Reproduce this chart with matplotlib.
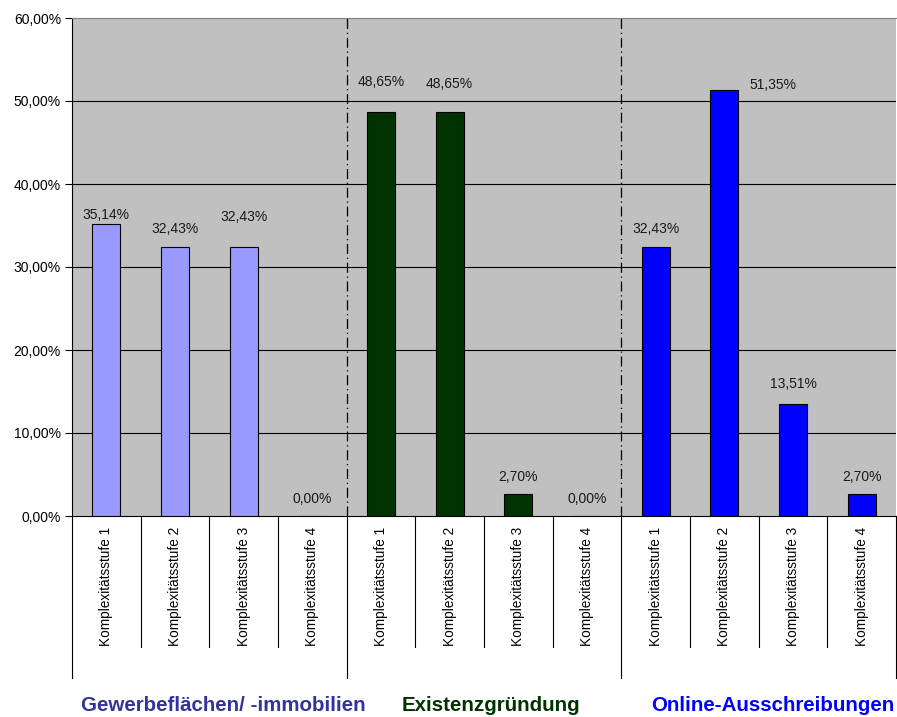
import numpy as np
import matplotlib.pyplot as plt
from matplotlib.transforms import blended_transform_factory

plt.rcParams['font.family'] = ['Liberation Sans', 'DejaVu Sans']

# categories and values (percent)
groups = ['Gewerbeflächen/ -immobilien', 'Existenzgründung', 'Online-Ausschreibungen']
levels = ['Komplexitätsstufe 1', 'Komplexitätsstufe 2', 'Komplexitätsstufe 3', 'Komplexitätsstufe 4']
gewerbe = [35.14, 32.43, 32.43, 0.00]
existenz = [48.65, 48.65, 2.70, 0.00]
online = [32.43, 51.35, 13.51, 2.70]

group_colors = ['#9999FF', '#003300', '#0000FF']
title_colors = ['#333399', '#003300', '#0000FF']
title_x = [1.7, 5.6, 9.7]

# label offsets in pixels (dx, dy) above the bar top
label_offsets = [(0, 9), (0, 18), (0, 30), (0, 17),
                 (0, 30), (0, 28), (0, 17), (0, 17),
                 (0, 18), (49, 5), (0, 20), (0, 17)]

values = gewerbe + existenz + online
n = len(values)
x = np.arange(n)
colors = [c for c in group_colors for _ in levels]

fig = plt.figure(figsize=(8.97, 7.17), dpi=100)
ax = fig.add_axes([72 / 897, 1 - 516 / 717, 824 / 897, 498 / 717])
ax.set_facecolor('#C0C0C0')

ax.bar(x, values, width=0.41, color=colors, edgecolor='black', linewidth=0.8, zorder=3)

ax.set_xlim(-0.5, n - 0.5)
ax.set_ylim(0, 60)
ax.set_yticks(np.arange(0, 61, 10))
ax.set_yticklabels([f'{v:.2f}%'.replace('.', ',') for v in np.arange(0, 61, 10)], fontsize=10)
ax.tick_params(axis='y', direction='out', length=5, width=0.8, pad=3)
ax.set_xticks([])
for y in range(10, 60, 10):
    ax.axhline(y, color='black', linewidth=0.8, zorder=1)

ax.spines['right'].set_visible(False)
ax.spines['top'].set_color('#808080')
ax.spines['left'].set_linewidth(0.8)
ax.spines['bottom'].set_linewidth(0.8)

# dash-dot separators between groups
for sep in [3.5, 7.5]:
    ax.axvline(sep, color='black', linewidth=0.9, linestyle=(0, (8, 3, 1, 3)), zorder=2)

# value labels
px = 72 / 100
for i, v in enumerate(values):
    dx, dy = label_offsets[i]
    ax.annotate(f'{v:.2f}%'.replace('.', ','), (x[i], v), xytext=(dx * px, dy * px),
                textcoords='offset points', ha='center', va='center', fontsize=10,
                color='#1a1a1a', zorder=4)

# category axis below the plot
trans = blended_transform_factory(ax.transData, ax.transAxes)
for k in range(n + 1):
    edge = k == 0 or k == n or k % 4 == 0
    y_end = -0.325 if edge else -0.263
    ax.plot([k - 0.5, k - 0.5], [0, y_end], color='black', linewidth=0.8,
            transform=trans, clip_on=False)
for i in range(n):
    ax.text(x[i], -0.022, levels[i % 4], rotation=90, ha='center', va='top',
            fontsize=9.8, transform=trans)

for g, name in enumerate(groups):
    ax.text(title_x[g], -0.38, name, ha='center', va='center', fontsize=14.8,
            fontweight='bold', color=title_colors[g], transform=trans)

fig.savefig('out.png', dpi=100)
